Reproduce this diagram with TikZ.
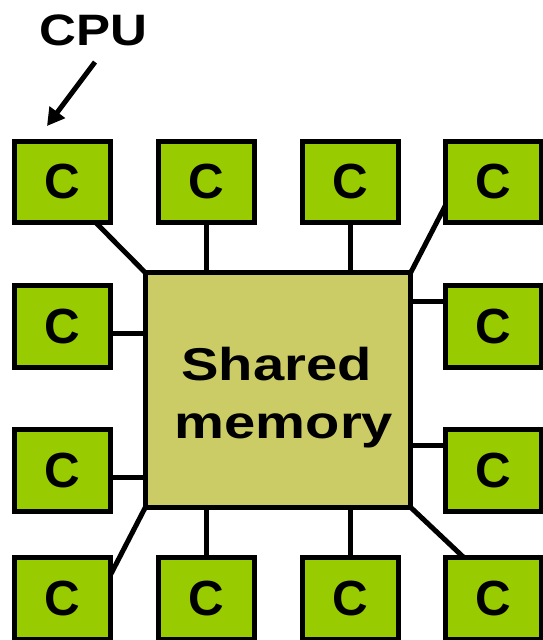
\documentclass[tikz,border=0pt]{standalone}
\usepackage{fontspec}
\usepackage{graphicx}
\setmainfont{Liberation Sans}
\usetikzlibrary{arrows.meta}
\definecolor{coregreen}{HTML}{99CC00}
\definecolor{memolive}{HTML}{CCCC66}
\newcommand{\widetext}[2]{\scalebox{#1}[1]{#2}}
\tikzset{
  core/.style={draw=black, line width=3.75pt, fill=coregreen, minimum width=72pt,
    minimum height=61pt, inner sep=0pt, outer sep=0pt,
    font=\fontsize{37}{40}\selectfont\bfseries},
  mem/.style={draw=black, line width=4pt, fill=memolive, minimum width=199pt,
    minimum height=176pt, inner sep=0pt, outer sep=0pt},
  memlabel/.style={anchor=base, inner sep=0pt,
    font=\fontsize{34.5}{40}\selectfont\bfseries},
  link/.style={line width=3.75pt, line cap=butt},
}
\begin{document}
\begin{tikzpicture}[x=0.75pt, y=-0.75pt]
\useasboundingbox (0,0) rectangle (543,640);

% shared memory block
\node[mem] (mem) at (278,390) {};
\node[memlabel] (memtxt1) at (276.5,380) {\widetext{1.22}{Shared}};
\node[memlabel] (memtxt2) at (284,438) {\widetext{1.22}{memory}};

% cores, row by row
\node[core] (c11) at (62.5,182) {C};
\node[core] (c12) at (206.5,182) {C};
\node[core] (c13) at (350.5,182) {C};
\node[core] (c14) at (493.5,182) {C};
\node[core] (c21) at (62.5,326.5) {C};
\node[core] (c24) at (493.5,326.5) {C};
\node[core] (c31) at (62.5,470.5) {C};
\node[core] (c34) at (493.5,470.5) {C};
\node[core] (c41) at (62.5,598.5) {C};
\node[core] (c42) at (206.5,598.5) {C};
\node[core] (c43) at (350.5,598.5) {C};
\node[core] (c44) at (493.5,598.5) {C};

% connection points on the cores
\coordinate (p11) at ([xshift=-11pt]c11.south east);
\coordinate (p14) at ([yshift=13pt]c14.south west);
\coordinate (p21) at ([yshift=-5.6pt]c21.east);
\coordinate (p31) at ([yshift=-5.6pt]c31.east);
\coordinate (p24) at ([yshift=18.4pt]c24.west);
\coordinate (p34) at ([yshift=19pt]c34.west);
\coordinate (p41) at ([yshift=-12.75pt]c41.north east);
\coordinate (p44) at ([xshift=14pt]c44.north west);

% links to the memory
\draw[link] (p11) -- (mem.north west);
\draw[link] (c12.south) -- (c12.south |- mem.north);
\draw[link] (c13.south) -- (c13.south |- mem.north);
\draw[link] (p14) -- (mem.north east);
\draw[link] (p21) -- (p21 -| mem.west);
\draw[link] (p31) -- (p31 -| mem.west);
\draw[link] (p24) -- (p24 -| mem.east);
\draw[link] (p34) -- (p34 -| mem.east);
\draw[link] (p41) -- (mem.south west);
\draw[link] (c42.north) -- (c42.north |- mem.south);
\draw[link] (c43.north) -- (c43.north |- mem.south);
\draw[link] (p44) -- (mem.south east);

% CPU label and pointer
\node[anchor=base, inner sep=0pt, font=\fontsize{33}{36}\selectfont\bfseries] (cpu) at (93.5,45) {\widetext{1.16}{CPU}};
\coordinate (arrs) at (95,62);
\coordinate (arre) at (47,126);
\draw[line width=3.75pt, -{Triangle[length=13pt,width=14pt]}] (arrs) -- (arre);
\end{tikzpicture}
\end{document}
